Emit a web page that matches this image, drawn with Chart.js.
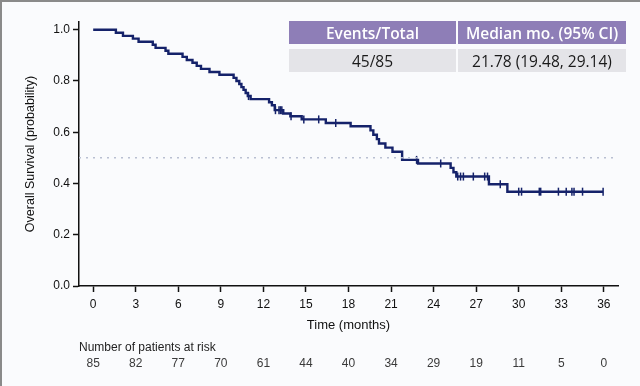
<!DOCTYPE html>
<html>
<head>
<meta charset="utf-8">
<script src="https://cdn.jsdelivr.net/npm/chart.js@4"></script>
<style>
  html, body { margin: 0; padding: 0; }
  body { width: 640px; height: 386px; background: #fafbfd; position: relative; overflow: hidden; }
  #km { position: absolute; left: 0; top: 0; }
  .frame { position: absolute; left: 0; top: 0; width: 640px; height: 386px; box-sizing: border-box;
           border-top: 2px solid #8a8a8a; border-left: 2px solid #8a8a8a; pointer-events: none; }
  .cell { position: absolute; display: flex; align-items: center; justify-content: center;
          font-family: 'Open Sans', sans-serif; font-size: 15.5px; white-space: nowrap; }
  .head { background: #8e7eb7; color: #fff; font-weight: 600; }
  .body { background: #e4e4e8; color: #1a1a1a; }
</style>
</head>
<body>
<canvas id="km" width="640" height="386"></canvas>
<div class="frame"></div>
<div class="cell head" style="left:289px;top:21px;width:167px;height:23px;">Events/Total</div>
<div class="cell head" style="left:458px;top:21px;width:168px;height:23px;">Median mo. (95% CI)</div>
<div class="cell body" style="left:289px;top:49px;width:167px;height:23px;">45/85</div>
<div class="cell body" style="left:458px;top:49px;width:168px;height:23px;">21.78 (19.48, 29.14)</div>
<script>
// survival curve (time in months, probability after each event)
const eventTimes = [0, 1.6, 2.1, 2.8, 3.2, 4.2, 4.4, 5.1, 5.3, 6.3, 6.6, 7.0, 7.3, 7.6, 8.2, 8.9,
  9.9, 10.1, 10.3, 10.45, 10.6, 10.75, 10.9, 11.1, 12.4, 12.6, 12.8, 13.4, 13.9, 14.7, 16.4, 18.15,
  19.55, 19.75, 20.0, 20.15, 20.6, 21.1, 21.78, 22.9, 25.2, 25.4, 25.6, 27.9, 29.2];
const survival = [1.0, 0.988, 0.976, 0.965, 0.953, 0.941, 0.929, 0.918, 0.906, 0.894, 0.882, 0.871, 0.859, 0.847, 0.835, 0.824,
  0.812, 0.800, 0.788, 0.776, 0.765, 0.753, 0.741, 0.729, 0.717, 0.705, 0.686, 0.673, 0.662, 0.650, 0.636, 0.623,
  0.607, 0.590, 0.573, 0.556, 0.540, 0.524, 0.492, 0.478, 0.461, 0.444, 0.427, 0.397, 0.368];
// censored patients
const censorTimes = [10.95, 12.85, 13.1, 13.2, 13.3, 13.95, 14.85, 15.9, 17.1, 22.8, 24.5, 25.7, 25.9,
  26.1, 26.8, 27.6, 27.8, 28.7, 30.0, 30.2, 31.45, 31.55, 32.8, 33.35, 33.75, 33.9, 34.5, 35.95];

const xTicks = [0, 3, 6, 9, 12, 15, 18, 21, 24, 27, 30, 33, 36];
const yTicks = [0, 0.2, 0.4, 0.6, 0.8, 1.0];
const atRisk = [85, 82, 77, 70, 61, 44, 40, 34, 29, 19, 11, 5, 0];
const medianRef = 0.5;
const xMin = -1, xMax = 37;

const navy = '#15226a';
const font = "'Liberation Sans', Arial, sans-serif";

function survAt(t) {
  let s = survival[0];
  for (let i = 0; i < eventTimes.length; i++) {
    if (eventTimes[i] <= t) s = survival[i];
  }
  return s;
}

const curve = eventTimes.map((t, i) => ({ x: t, y: survival[i] }));
const lastT = censorTimes[censorTimes.length - 1];
curve.push({ x: lastT, y: survAt(lastT) });

const censors = censorTimes.map(t => ({ x: t, y: survAt(t) }));

// number at risk under the axis
const riskTable = {
  id: 'riskTable',
  afterDraw(chart) {
    const ctx = chart.ctx;
    const xs = chart.scales.x;
    ctx.save();
    ctx.font = '12px ' + font;
    ctx.fillStyle = '#222';
    ctx.textBaseline = 'middle';
    ctx.textAlign = 'left';
    ctx.fillText('Number of patients at risk', 79, 348);
    ctx.fillStyle = '#3a3a3a';
    ctx.textAlign = 'center';
    xTicks.forEach((t, i) => {
      ctx.fillText(String(atRisk[i]), xs.getPixelForValue(t), 364);
    });
    ctx.restore();
  }
};

new Chart(document.getElementById('km'), {
  type: 'line',
  data: {
    datasets: [
      {
        data: [{ x: xMin, y: medianRef }, { x: xMax, y: medianRef }],
        borderColor: '#b9c0d2',
        borderWidth: 1.5,
        borderDash: [2, 5],
        pointRadius: 0,
        fill: false,
      },
      {
        data: curve,
        stepped: 'before',
        borderColor: navy,
        borderWidth: 2.4,
        pointRadius: 0,
        fill: false,
      },
      {
        type: 'scatter',
        data: censors,
        pointStyle: 'line',
        rotation: 90,
        pointRadius: 4,
        borderColor: navy,
        backgroundColor: navy,
        pointBorderWidth: 1.5,
      },
    ],
  },
  options: {
    responsive: false,
    animation: false,
    layout: { padding: { top: 22, right: 22, left: 0, bottom: 0 } },
    plugins: { legend: { display: false }, tooltip: { enabled: false } },
    scales: {
      x: {
        type: 'linear',
        min: xMin,
        max: xMax,
        afterBuildTicks: s => { s.ticks = xTicks.map(v => ({ value: v })); },
        afterFit: s => { s.height = 100; },
        grid: { drawOnChartArea: false, drawTicks: true, tickLength: 6, tickWidth: 1.5, color: '#111' },
        border: { display: true, color: '#111', width: 1.5 },
        ticks: { padding: 5, color: '#111', font: { family: font, size: 12 }, maxRotation: 0, autoSkip: false },
        title: { display: true, text: 'Time (months)', color: '#111', font: { family: font, size: 13 }, padding: { top: 0, bottom: 53 } },
      },
      y: {
        type: 'linear',
        min: 0,
        max: 1.03,
        afterBuildTicks: s => { s.ticks = yTicks.map(v => ({ value: v })); },
        afterFit: s => { s.width = 79; },
        grid: { drawOnChartArea: false, drawTicks: true, tickLength: 6, tickWidth: 1.5, color: '#111' },
        border: { display: true, color: '#111', width: 1.5 },
        ticks: { padding: 3, color: '#111', font: { family: font, size: 12 }, callback: v => v.toFixed(1) },
        title: { display: true, text: 'Overall Survival (probability)', color: '#111', font: { family: font, size: 12.5 }, padding: { top: 23, bottom: 0 } },
      },
    },
  },
  plugins: [riskTable],
});
</script>
</body>
</html>
